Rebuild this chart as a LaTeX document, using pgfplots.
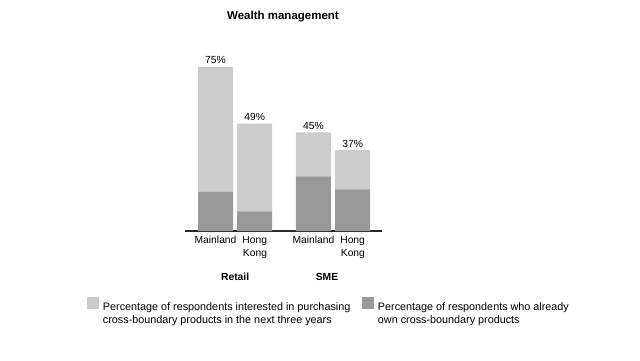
\documentclass[border=0pt]{standalone}
\usepackage{pgfplots}
\pgfplotsset{compat=1.18}
\usepackage{fontspec}
\setmainfont{Liberation Sans}
\definecolor{lightbar}{RGB}{204,204,204}
\definecolor{darkbar}{RGB}{153,153,153}
\definecolor{axisgray}{RGB}{40,40,40}
\begin{document}
\begin{tikzpicture}
\path[use as bounding box] (0,0) rectangle (640pt,360pt);
\node[font=\fontsize{11.5}{13}\selectfont\bfseries] at (283pt,343.5pt) {Wealth management};
\begin{axis}[
  at={(185pt,129pt)}, anchor=south west,
  scale only axis, width=197pt, height=175.2pt,
  xmin=-0.78, xmax=4.25, ymin=0, ymax=80,
  ybar stacked, bar width=35pt,
  axis x line*=bottom, axis y line=none,
  x axis line style={-, draw=axisgray, line width=1.3pt},
  xtick={0,1,2.5,3.5},
  xticklabels={Mainland, Hong\\Kong, Mainland, Hong\\Kong},
  xticklabel style={align=right, font=\fontsize{10.3}{13.2}\selectfont, yshift=-1.5pt},
  major tick length=0pt,
  clip=false,
  legend style={at={(-0.4975,-0.3767)}, anchor=north west, draw=none, fill=none,
    inner sep=0pt, outer sep=0pt, legend columns=2,
    font=\fontsize{10.8}{13}\selectfont,
    nodes={inner sep=0pt},
    /tikz/every odd column/.append style={column sep=4pt}},
  legend cell align=left,
  legend image code/.code={\path[fill=none,draw=none] (0pt,-10.5pt) rectangle (12pt,10.5pt); \fill[#1] (0pt,-1.5pt) rectangle (12pt,10.5pt);},
]
\addlegendimage{fill=lightbar, draw=none}
\addlegendentry{\parbox[t]{259pt}{Percentage of respondents interested in purchasing\\cross-boundary products in the next three years}}
\addlegendimage{fill=darkbar, draw=none}
\addlegendentry{\parbox[t]{220pt}{Percentage of respondents who already\\own cross-boundary products}}
\addplot[fill=darkbar, draw=none, forget plot] coordinates {(0,18) (1,9) (2.5,25) (3.5,19)};
\addplot[fill=lightbar, draw=none, forget plot] coordinates {(0,57) (1,40) (2.5,20) (3.5,18)};
\addplot[fill=white, fill opacity=0, draw=none, forget plot, nodes near coords, point meta=explicit symbolic,
  every node near coord/.append style={font=\fontsize{10.3}{12}\selectfont, text=black, text opacity=1, anchor=south, inner sep=2.5pt}]
  coordinates {(0,0.01) [75\%] (1,0.01) [49\%] (2.5,0.01) [45\%] (3.5,0.01) [37\%]};
\draw[draw=axisgray, line width=1.3pt] (axis cs:-0.78,0) -- (axis cs:4.25,0);
\node[font=\fontsize{10.3}{12}\selectfont\bfseries] at (axis cs:0.5,0) [yshift=-46pt] {Retail};
\node[font=\fontsize{10.3}{12}\selectfont\bfseries] at (axis cs:2.845,0) [yshift=-46pt] {SME};
\end{axis}
\end{tikzpicture}
\end{document}
